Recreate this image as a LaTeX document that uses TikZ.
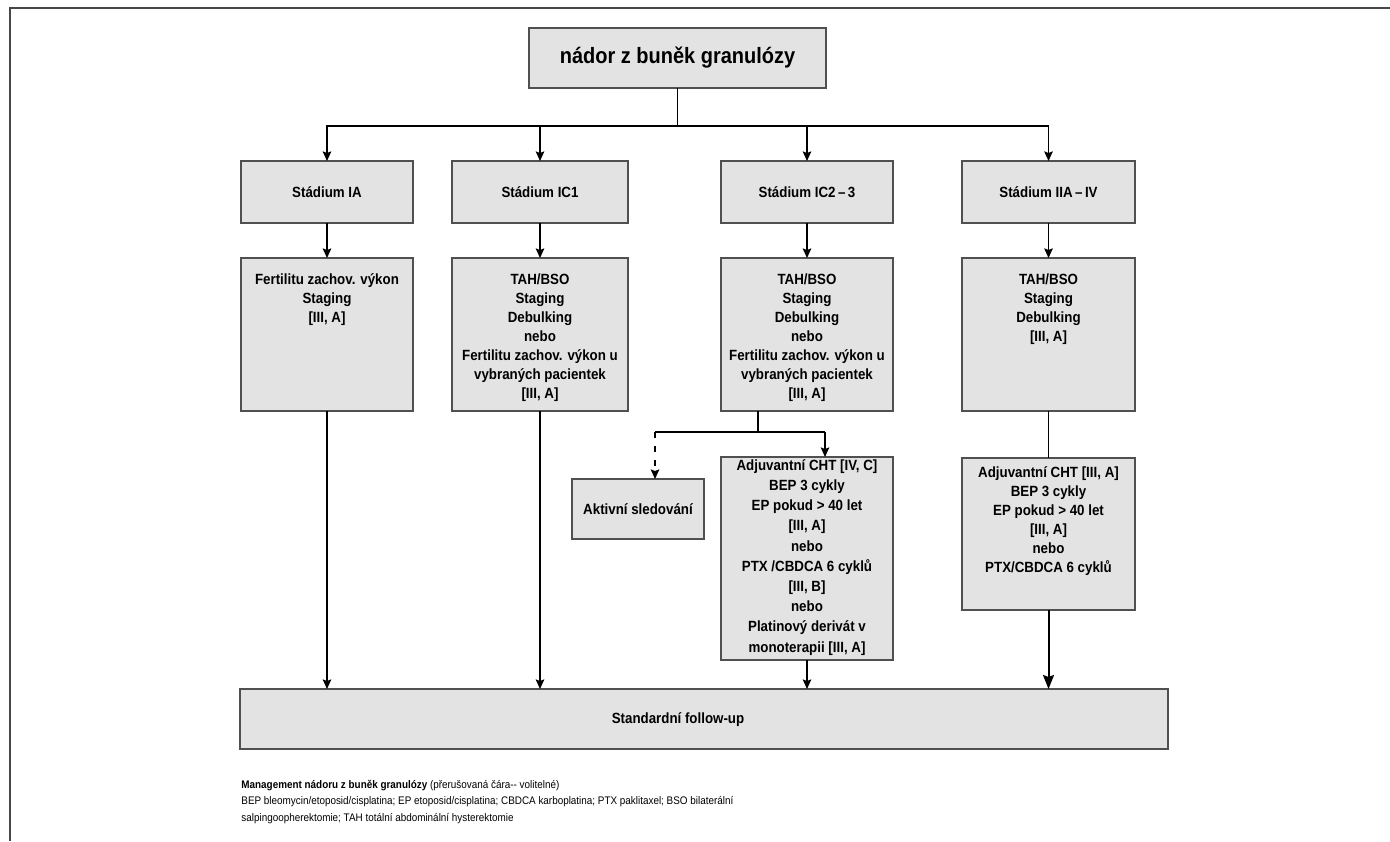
\documentclass[tikz,border=0pt]{standalone}
\usepackage{fontspec}
\setmainfont{Liberation Sans}[FakeStretch=0.9]
\usetikzlibrary{arrows.meta}
\definecolor{boxfill}{HTML}{E3E3E3}
\definecolor{boxline}{HTML}{505050}
\definecolor{framecol}{HTML}{474747}

\begin{document}
\begin{tikzpicture}[x=0.5pt,y=-0.5pt,
  wpx/.style={minimum width=#1*0.5pt},
  hpx/.style={minimum height=#1*0.5pt},
  box/.style={draw=boxline, fill=boxfill, line width=0.75pt, inner sep=0pt, outer sep=0pt,
    font=\fontsize{7.4}{9.5}\selectfont\bfseries, align=center},
  boxtxt/.style={font=\fontsize{7.4}{9.5}\selectfont\bfseries, align=center, inner sep=0pt, anchor=north},
  link/.style={line width=0.7pt, draw=black},
  arr/.style={link, -{Stealth[length=4.8pt,width=4.3pt,inset=0.8pt]}},
  bigarr/.style={line width=1pt, draw=black, -{Stealth[length=7pt,width=5.5pt,inset=1pt]}},
]
\useasboundingbox (0,0) rectangle (1390,841);

% page frame
\draw[framecol, line width=1pt] (9.5,841) -- (9.5,8) -- (1390,8);

% root
\node[box, wpx=297, hpx=60, font=\fontsize{11.1}{13}\selectfont\bfseries] (top) at (677.5,58) {nádor z buněk granulózy};

% stages
\node[box, wpx=172, hpx=62] (sA) at (327,192) {Stádium IA};
\node[box, wpx=176, hpx=62] (sB) at (540,192) {Stádium IC1};
\node[box, wpx=172, hpx=62] (sC) at (807,192) {Stádium IC2\,–\,3};
\node[box, wpx=173, hpx=62] (sD) at (1048.5,192) {Stádium IIA\,–\,IV};

% surgery
\node[box, wpx=172, hpx=153] (tA) at (327,334.5) {};
\node[boxtxt] (tAt) at (327,273) {Fertilitu zachov. výkon\\Staging\\{[III, A]}};
\node[box, wpx=176, hpx=153] (tB) at (540,334.5) {};
\node[boxtxt] (tBt) at (540,273) {TAH/BSO\\Staging\\Debulking\\nebo\\Fertilitu zachov. výkon u\\vybraných pacientek\\{[III, A]}};
\node[box, wpx=172, hpx=153] (tC) at (807,334.5) {};
\node[boxtxt] (tCt) at (807,273) {TAH/BSO\\Staging\\Debulking\\nebo\\Fertilitu zachov. výkon u\\vybraných pacientek\\{[III, A]}};
\node[box, wpx=173, hpx=153] (tD) at (1048.5,334.5) {};
\node[boxtxt] (tDt) at (1048.5,273) {TAH/BSO\\Staging\\Debulking\\{[III, A]}};

% adjuvant / observation
\node[box, wpx=132, hpx=60] (akt) at (638,509) {Aktivní sledování};
\node[box, wpx=172, hpx=203] (adjC) at (807,558.5) {};
\node[boxtxt, font=\fontsize{7.4}{10.1}\selectfont\bfseries] (adjCt) at (807,459) {Adjuvantní CHT [IV, C]\\BEP 3 cykly\\EP pokud > 40 let\\{[III, A]}\\nebo\\PTX /CBDCA 6 cyklů\\{[III, B]}\\nebo\\Platinový derivát v\\monoterapii [III, A]};
\node[box, wpx=173, hpx=152] (adjD) at (1048.5,534) {};
\node[boxtxt] (adjDt) at (1048.5,466) {Adjuvantní CHT [III, A]\\BEP 3 cykly\\EP pokud > 40 let\\{[III, A]}\\nebo\\PTX/CBDCA 6 cyklů};

% follow-up
\node[box, wpx=928, hpx=60] (fu) at (704,719) {};
\node[boxtxt, anchor=center] (fut) at (678,720) {Standardní follow-up};

% connectors
\coordinate (bus) at (677.5,126);
\draw[link] (top.south) -- (bus);
\draw[arr] (bus) -| (sA.north);
\draw[arr] (bus) -| (sB.north);
\draw[arr] (bus) -| (sC.north);
\draw[arr] (bus) -| (sD.north);

\draw[arr] (sA.south) -- (tA.north);
\draw[arr] (sB.south) -- (tB.north);
\draw[arr] (sC.south) -- (tC.north);
\draw[arr] (sD.south) -- (tD.north);

\draw[arr] (tA.south) -- (tA.south |- fu.north);
\draw[arr] (tB.south) -- (tB.south |- fu.north);

\coordinate (split) at (758,432);
\coordinate (lt) at (655,432);
\coordinate (rt) at (825,432);
\draw[link] (split |- tC.south) -- (split);
\draw[link] (lt) -- (rt);
\draw[arr] (rt) -- (rt |- adjC.north);
\draw[arr, dash pattern=on 3pt off 4pt] (lt) -- (lt |- akt.north);
\draw[arr] (adjC.south) -- (adjC.south |- fu.north);

\draw[link] (tD.south) -- (adjD.north);
\draw[bigarr] (adjD.south) -- (adjD.south |- fu.north);

% legend
\node[anchor=north west, inner sep=0pt, align=left, font=\fontsize{5.5}{8.1}\selectfont] (legend) at (241,780)
  {\textbf{Management nádoru z buněk granulózy} (přerušovaná čára-{}- volitelné)\\
   BEP bleomycin/etoposid/cisplatina; EP etoposid/cisplatina; CBDCA karboplatina; PTX paklitaxel; BSO bilaterální\\
   salpingoopherektomie; TAH totální abdominální hysterektomie};
\end{tikzpicture}
\end{document}
